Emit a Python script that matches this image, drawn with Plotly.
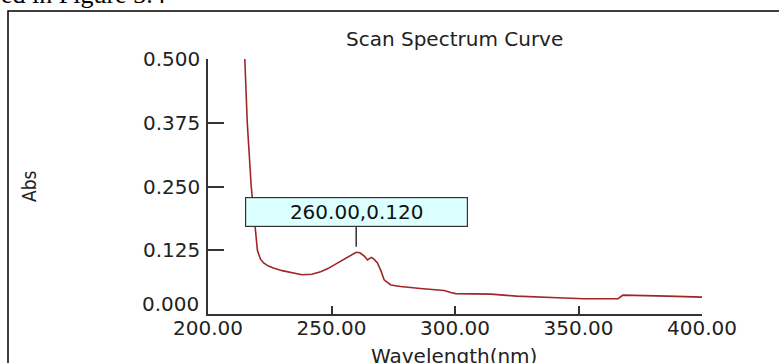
import plotly.graph_objects as go

# ---- data ----
wavelength = [214.9, 215.9, 217.5, 218.5, 220.0, 221.2, 222.5, 224.5, 226.5, 230.0, 233.4,
              238.0, 242.0, 245.6, 248.5, 251.0, 254.0, 256.4, 258.5, 260.0, 261.5, 263.4,
              264.5, 265.3, 266.2, 267.3, 268.6, 270.0, 271.3, 274.0, 278.0, 286.0, 295.6,
              298.3, 300.3, 314.5, 325.0, 341.5, 352.0, 366.0, 367.0, 368.0, 386.0, 400.0]
absorbance = [0.500, 0.375, 0.250, 0.200, 0.125, 0.108, 0.100, 0.094, 0.090, 0.085, 0.081,
              0.077, 0.078, 0.083, 0.089, 0.096, 0.104, 0.111, 0.117, 0.121, 0.120, 0.113,
              0.106, 0.108, 0.111, 0.107, 0.100, 0.085, 0.067, 0.057, 0.054, 0.050, 0.046,
              0.042, 0.040, 0.039, 0.035, 0.032, 0.030, 0.030, 0.033, 0.037, 0.035, 0.033]
x_ticks = [200, 250, 300, 350, 400]
y_ticks = [0.000, 0.125, 0.250, 0.375, 0.500]
y_tick_text = ["", "0.125", "0.250", "0.375", "0.500"]
zero_label = "0.000"
peak_x, peak_y = 260.00, 0.120
peak_label = f"{peak_x:.2f},{peak_y:.3f}"
title_text = "Scan Spectrum Curve"
x_title = "Wavelength(nm)"
y_title = "Abs"
caption_text = "ed in Figure 3.4"

# ---- layout geometry (pixels) ----
W, H = 779, 363
L, R, T, B = 208, 77, 59, 49
PW, PH = W - L - R, H - T - B

def px(xpix):
    return (xpix - L) / PW

def py(ypix):
    return (H - B - ypix) / PH

FONT = "DejaVu Sans, Verdana, sans-serif"
AXC = "#333333"
TXT = "#222222"

fig = go.Figure()
fig.add_trace(go.Scatter(x=wavelength, y=absorbance, mode="lines",
                         line=dict(color="#a02626", width=1.6),
                         hoverinfo="skip", showlegend=False))

fig.update_layout(
    width=W, height=H,
    margin=dict(l=L, r=R, t=T, b=B, pad=0),
    paper_bgcolor="white", plot_bgcolor="white",
    font=dict(family=FONT, size=20, color=TXT),
    showlegend=False,
)
fig.update_xaxes(range=[200, 400], tickvals=x_ticks, tickformat=".2f",
                 showgrid=False, zeroline=False, showline=True, linecolor=AXC,
                 linewidth=1.5, ticks="inside", ticklen=8, tickwidth=1.5,
                 tickcolor=AXC, ticklabelstandoff=-5,
                 tickfont=dict(family=FONT, size=20, color=TXT))
fig.update_yaxes(range=[0, 0.5], tickvals=y_ticks, ticktext=y_tick_text,
                 showgrid=False, zeroline=False, showline=True, linecolor=AXC,
                 linewidth=1.5, ticks="inside", ticklen=16, tickwidth=1.5,
                 tickcolor=AXC, ticklabelstandoff=2,
                 tickfont=dict(family=FONT, size=20, color=TXT))

# outer frame (partially outside the figure)
fig.add_shape(type="rect", xref="paper", yref="paper",
              x0=px(8), x1=px(W + 20), y0=py(H + 20), y1=py(11),
              line=dict(color="black", width=1.5), fillcolor="rgba(0,0,0,0)",
              layer="above")

# zero tick label, lifted above the x axis as in the reference
fig.add_annotation(text=zero_label, xref="paper", yref="y",
                   x=px(201), y=y_ticks[0], yshift=10, xanchor="right", yanchor="middle",
                   showarrow=False, font=dict(family=FONT, size=20, color=TXT))
# title
fig.add_annotation(text=title_text, xref="paper", yref="paper",
                   x=px(454), y=py(39), xanchor="center", yanchor="middle",
                   showarrow=False, font=dict(family=FONT, size=20, color=TXT))
# x axis title
fig.add_annotation(text=x_title, xref="paper", yref="paper",
                   x=px(454), y=py(342), xanchor="center", yanchor="top",
                   showarrow=False, font=dict(family=FONT, size=20, color=TXT))
# y axis title
fig.add_annotation(text=y_title, xref="paper", yref="paper",
                   x=px(29), y=py(186), xanchor="center", yanchor="middle",
                   textangle=-90, showarrow=False,
                   font=dict(family="Liberation Sans Narrow, DejaVu Sans Condensed, Liberation Sans, sans-serif",
                             size=19, color=TXT))
# peak label
fig.add_annotation(text=peak_label, x=peak_x, y=peak_y, xref="x", yref="y",
                   showarrow=True, arrowhead=0, arrowwidth=1.5, arrowcolor=AXC,
                   ax=0, ay=-41, standoff=6, width=221, height=28,
                   bgcolor="#dcffff", bordercolor=AXC, borderwidth=1.2, borderpad=0,
                   font=dict(family=FONT, size=20, color="#111111"))
# cropped caption text at the very top
fig.add_annotation(text=caption_text, xref="paper", yref="paper",
                   x=px(-1), y=py(11), xanchor="left", yanchor="bottom",
                   showarrow=False,
                   font=dict(family="Liberation Serif, Times New Roman, serif", size=26, color="black"))

fig.write_html("out.html")
